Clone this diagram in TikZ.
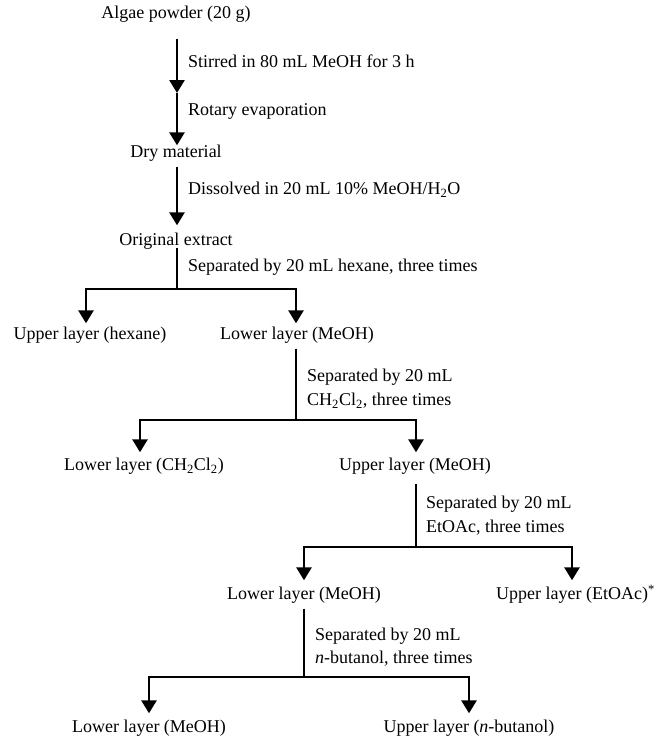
\documentclass[tikz,border=0pt]{standalone}
\usepackage{fontspec}
\setmainfont{Liberation Serif}
\usetikzlibrary{arrows.meta}
\begin{document}
\begin{tikzpicture}[x=1bp,y=-1bp,
  every node/.style={font=\fontsize{18bp}{24bp}\selectfont, inner sep=0pt, text height=0.7em, text depth=0.2em},
  lbl/.style={anchor=west},
  ln/.style={line width=2.7bp},
  arr/.style={line width=2.7bp,-{Triangle[length=13bp,width=15bp]}},
]
\useasboundingbox (0,0) rectangle (656,738);
% main chain
\node (algae) at (176,16) {Algae powder (20 g)};
\node (dry) at (176,155) {Dry material};
\node (orig) at (176,243) {Original extract};
\coordinate (mid) at (177,93);
\draw[arr, shorten <=18bp] (algae.south -| mid) -- (mid);
\draw[arr, shorten >=5bp] (mid) -- (dry.north -| mid);
\draw[arr, shorten <=7bp, shorten >=13bp] (dry.south -| mid) -- (orig.north -| mid);
\node[lbl] (l1) at (188,65) {Stirred in 80 mL MeOH for 3 h};
\node[lbl] (l2) at (188,113) {Rotary evaporation};
\node[lbl] (l3) at (188,192) {Dissolved in 20 mL 10\% MeOH/H\textsubscript{2}O};
\node[lbl] (l4) at (188,269) {Separated by 20 mL hexane, three times};
% hexane split
\coordinate (b1) at (177,289);
\coordinate (b1l) at (86,289);
\coordinate (b1r) at (296,289);
\node (hex) at (90,337) {Upper layer (hexane)};
\node (meoh1) at (297,337) {Lower layer (MeOH)};
\draw[ln] (orig.south -| b1) -- (b1);
\draw[arr, shorten >=9bp] (b1) -- (b1l) -- (hex.north -| b1l);
\draw[arr, shorten >=9bp] (b1) -- (b1r) -- (meoh1.north -| b1r);
% CH2Cl2 split
\coordinate (b2) at (296,420);
\coordinate (b2l) at (140,420);
\coordinate (b2r) at (416,420);
\node[lbl] (l5) at (307,379) {Separated by 20 mL};
\node[lbl] (l6) at (307,403) {CH\textsubscript{2}Cl\textsubscript{2}, three times};
\node (dcm) at (144,468) {Lower layer (CH\textsubscript{2}Cl\textsubscript{2})};
\node (meoh2) at (415,468) {Upper layer (MeOH)};
\draw[ln, shorten <=7bp] (meoh1.south -| b2) -- (b2);
\draw[arr, shorten >=11bp] (b2) -- (b2l) -- (dcm.north -| b2l);
\draw[arr, shorten >=11bp] (b2) -- (b2r) -- (meoh2.north -| b2r);
% EtOAc split
\coordinate (b3) at (416,547);
\coordinate (b3l) at (304,547);
\coordinate (b3r) at (572,547);
\node[lbl] (l7) at (426,506) {Separated by 20 mL};
\node[lbl] (l8) at (426,530) {EtOAc, three times};
\node (meoh3) at (304,597) {Lower layer (MeOH)};
\node[anchor=west] (etoac) at (496,597) {Upper layer (EtOAc)\textsuperscript{*}};
\draw[ln, shorten <=11bp] (meoh2.south -| b3) -- (b3);
\draw[arr, shorten >=12bp] (b3) -- (b3l) -- (meoh3.north -| b3l);
\draw[arr, shorten >=12bp] (b3) -- (b3r) -- (etoac.north -| b3r);
% n-butanol split
\coordinate (b4) at (304,677);
\coordinate (b4l) at (149,677);
\coordinate (b4r) at (469,677);
\node[lbl] (l9) at (315,638) {Separated by 20 mL};
\node[lbl] (l10) at (315,661) {\textit{n}-butanol, three times};
\node (meoh4) at (149,730) {Lower layer (MeOH)};
\node (nbut) at (469,730) {Upper layer (\textit{n}-butanol)};
\draw[ln, shorten <=7bp] (meoh3.south -| b4) -- (b4);
\draw[arr, shorten >=12bp] (b4) -- (b4l) -- (meoh4.north -| b4l);
\draw[arr, shorten >=12bp] (b4) -- (b4r) -- (nbut.north -| b4r);
\end{tikzpicture}
\end{document}
